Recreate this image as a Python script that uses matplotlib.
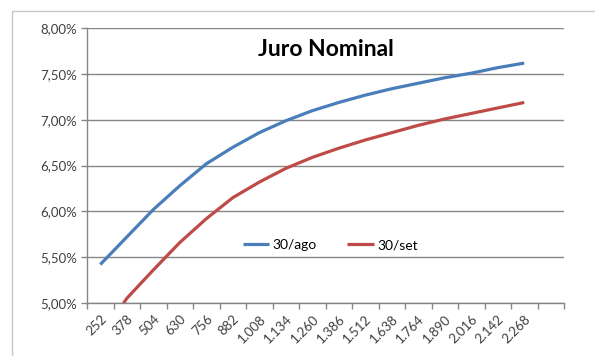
import matplotlib.pyplot as plt
from matplotlib.patches import Rectangle
from matplotlib.ticker import FixedLocator, FuncFormatter

plt.rcParams['font.family'] = ['Lato', 'DejaVu Sans']

# prazos (dias úteis); a última categoria fica sem rótulo
prazos = ['252', '378', '504', '630', '756', '882', '1.008', '1.134', '1.260',
          '1.386', '1.512', '1.638', '1.764', '1.890', '2.016', '2.142', '2.268', '']
juro_ago = [5.42, 5.72, 6.02, 6.28, 6.52, 6.70, 6.86, 6.99, 7.10,
            7.19, 7.27, 7.34, 7.40, 7.46, 7.51, 7.57, 7.62]
juro_set = [4.62, 5.05, 5.36, 5.66, 5.92, 6.15, 6.32, 6.47, 6.59,
            6.69, 6.78, 6.86, 6.94, 7.01, 7.07, 7.13, 7.19]

azul = '#4a7ebb'
vermelho = '#be4b48'
cinza = '#868686'

fig = plt.figure(figsize=(5.95, 3.56), dpi=100)
fig.patches.append(Rectangle((12 / 595, -0.1), 1.0, 1 - 11 / 356 + 0.1,
                             transform=fig.transFigure, fill=False,
                             edgecolor='#c8c8c8', linewidth=1.0))

ax = fig.add_axes([87 / 595, 1 - 303 / 356, (564 - 87) / 595, (303 - 28.3) / 356])

x = list(range(len(juro_ago)))
ax.plot(x, juro_ago, color=azul, linewidth=2.3, label='30/ago', solid_capstyle='butt')
ax.plot(x, juro_set, color=vermelho, linewidth=2.3, label='30/set', solid_capstyle='butt')

ax.set_xlim(-0.5, len(prazos) - 0.5)
ax.set_ylim(5.0, 8.0)

# eixo y: grade horizontal a cada 0,5%
ax.set_yticks([5.0, 5.5, 6.0, 6.5, 7.0, 7.5, 8.0])
ax.yaxis.set_major_formatter(FuncFormatter(lambda v, p: f'{v:.2f}%'.replace('.', ',')))
ax.grid(axis='y', color=cinza, linewidth=1.0)
ax.set_axisbelow(True)

# eixo x: marcas entre categorias, rótulos no centro
ax.xaxis.set_major_locator(FixedLocator([i - 0.5 for i in range(len(prazos) + 1)]))
ax.xaxis.set_major_formatter(FuncFormatter(lambda v, p: ''))
ax.xaxis.set_minor_locator(FixedLocator(range(len(prazos))))
ax.set_xticklabels(prazos, minor=True, rotation=45, ha='right', va='top',
                   rotation_mode='anchor')
ax.tick_params(axis='x', which='minor', length=0, pad=7, labelsize=9.5, labelcolor='#404040')
ax.tick_params(axis='x', which='major', length=4, color=cinza, width=1.0)
ax.tick_params(axis='y', length=4, color=cinza, width=1.0, pad=3,
               labelsize=9.5, labelcolor='#404040')

for lado in ['top', 'right']:
    ax.spines[lado].set_visible(False)
for lado in ['left', 'bottom']:
    ax.spines[lado].set_color(cinza)
    ax.spines[lado].set_linewidth(1.0)

ax.text(0.5, 0.96, 'Juro Nominal', transform=ax.transAxes, ha='center', va='top',
        fontsize=16.5, fontweight='bold', color='black')

ax.legend(loc='center', bbox_to_anchor=(0.51, 0.21), ncol=2, frameon=False,
          fontsize=10, handlelength=1.9, handletextpad=0.25, columnspacing=2.2)

fig.savefig('out.png', dpi=100)
